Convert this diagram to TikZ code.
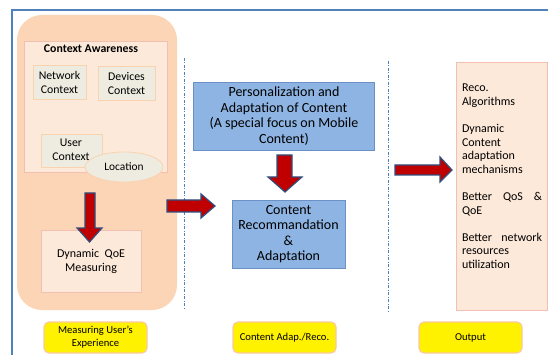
\documentclass[tikz,border=0pt]{standalone}
\usepackage{fontspec}
\setmainfont{Carlito}
\usetikzlibrary{shapes.geometric}
\definecolor{frameblue}{HTML}{4F81BD}
\definecolor{peach}{HTML}{FBD5B5}
\definecolor{lightpeach}{HTML}{FDE9D9}
\definecolor{peachline}{HTML}{F2BFB0}
\definecolor{greybox}{HTML}{EEECE1}
\definecolor{greyline}{HTML}{F9D3B0}
\definecolor{bluebox}{HTML}{8DB4E2}
\definecolor{blueline}{HTML}{6A90C6}
\definecolor{arrowred}{HTML}{C00000}
\definecolor{arrowline}{HTML}{2F4F7F}
\definecolor{yellowline}{HTML}{F9C9A0}
\begin{document}
\begin{tikzpicture}[x=1pt,y=-1pt,
  every node/.style={inner sep=0pt, outer sep=0pt},
  lightbox/.style={draw=peachline, fill=lightpeach, line width=0.8pt, align=center},
  greyctx/.style={draw=greyline, fill=greybox, line width=0.8pt, align=center, font=\fontsize{11.8}{14}\selectfont},
  bluebx/.style={draw=blueline, fill=bluebox, line width=0.8pt, align=center, font=\fontsize{14}{15.5}\selectfont},
  ylabel/.style={draw=yellowline, fill=yellow, line width=1.2pt, rounded corners=5pt, align=center,
    minimum width=103pt, minimum height=31pt, font=\fontsize{10.6}{13}\selectfont},
  blockarrow/.style={fill=arrowred, draw=arrowline, line width=1.2pt, line join=miter},
  divider/.style={draw=frameblue, line width=0.6pt, dash pattern=on 3pt off 1.5pt on 1pt off 1.5pt}
]
\useasboundingbox (0,0) rectangle (548,355);
\fill[white] (0,0) rectangle (548,355);
% frame
\draw[frameblue, line width=1.3pt] (12,355) -- (12,10) -- (548,10);

% left panel
\fill[peach, rounded corners=25pt] (17,15) rectangle (177,310);
\node[lightbox, minimum width=143pt, minimum height=131pt] (ca) at (95.5,106.5) {};
\node[font=\bfseries\fontsize{11.8}{14}\selectfont] (catitle) at (91,49) {Context Awareness};
\node[greyctx, minimum width=53pt, minimum height=34pt] (net) at (59.5,82) {Network\\Context};
\node[greyctx, minimum width=57pt, minimum height=34pt] (dev) at (126.5,83) {Devices\\Context};
\node[greyctx, minimum width=61pt, minimum height=33pt] (usr) at (71.5,150.5) {};
\node[font=\fontsize{11.8}{14}\selectfont, align=center] (usrtxt) at (71,150) {User\\Context};
\node[ellipse, draw=greyline, fill=greybox, line width=0.8pt, minimum width=78pt, minimum height=30pt,
  font=\fontsize{11.4}{13}\selectfont] (loc) at (124,167) {Location};
\node[lightbox, minimum width=100pt, minimum height=62pt, font=\fontsize{12}{14}\selectfont] (qoe) at (91,261) {Dynamic\ \ QoE\\Measuring};

% arrow down 1
\draw[blockarrow] (85,193) -- (95,193) -- (95,228) -- (102,228) -- (89.5,242) -- (77,228) -- (85,228) -- cycle;

% dividers
\draw[divider] (184,58) -- (184,309);
\draw[divider] (388,61) -- (388,313);

% arrow right 1
\draw[blockarrow] (167,200) -- (201,200) -- (201,194) -- (215,206) -- (201,218) -- (201,212) -- (167,212) -- cycle;

% middle blue boxes
\node[bluebx, minimum width=181pt, minimum height=68pt] (pers) at (284,116)
  {Personalization and\\Adaptation of Content\\(A special focus on Mobile\\Content)};
\draw[blockarrow] (277,155) -- (292,155) -- (292,177) -- (302,177) -- (285,192) -- (268,177) -- (277,177) -- cycle;
\node[bluebx, minimum width=113pt, minimum height=68pt] (rec) at (288.5,234)
  {Content\\Recommandation\\\&\\Adaptation};

% arrow right 2
\draw[blockarrow] (395,165) -- (440,165) -- (440,157) -- (452,170) -- (440,182) -- (440,175) -- (395,175) -- cycle;

% output box
\node[draw=peachline, fill=lightpeach, line width=0.8pt, minimum width=91pt, minimum height=248pt] (out) at (501.5,186) {};
\node[anchor=north west, align=left, font=\fontsize{12}{13.6}\selectfont] (outtxt) at (462,84)
  {Reco.\\Algorithms\\[13.6pt]Dynamic\\Content\\adaptation\\mechanisms\\[13.6pt]
   \hbox to 80pt{Better\hfill QoS\hfill\&}\\QoE\\[13.6pt]
   \hbox to 80pt{Better\hfill network}\\resources\\utilization};

% bottom labels
\node[ylabel] (l1) at (95.5,337.5) {Measuring User's\\Experience};
\node[ylabel] (l2) at (284.5,337.5) {Content Adap./Reco.};
\node[ylabel] (l3) at (470.5,337.5) {Output};
\end{tikzpicture}
\end{document}
